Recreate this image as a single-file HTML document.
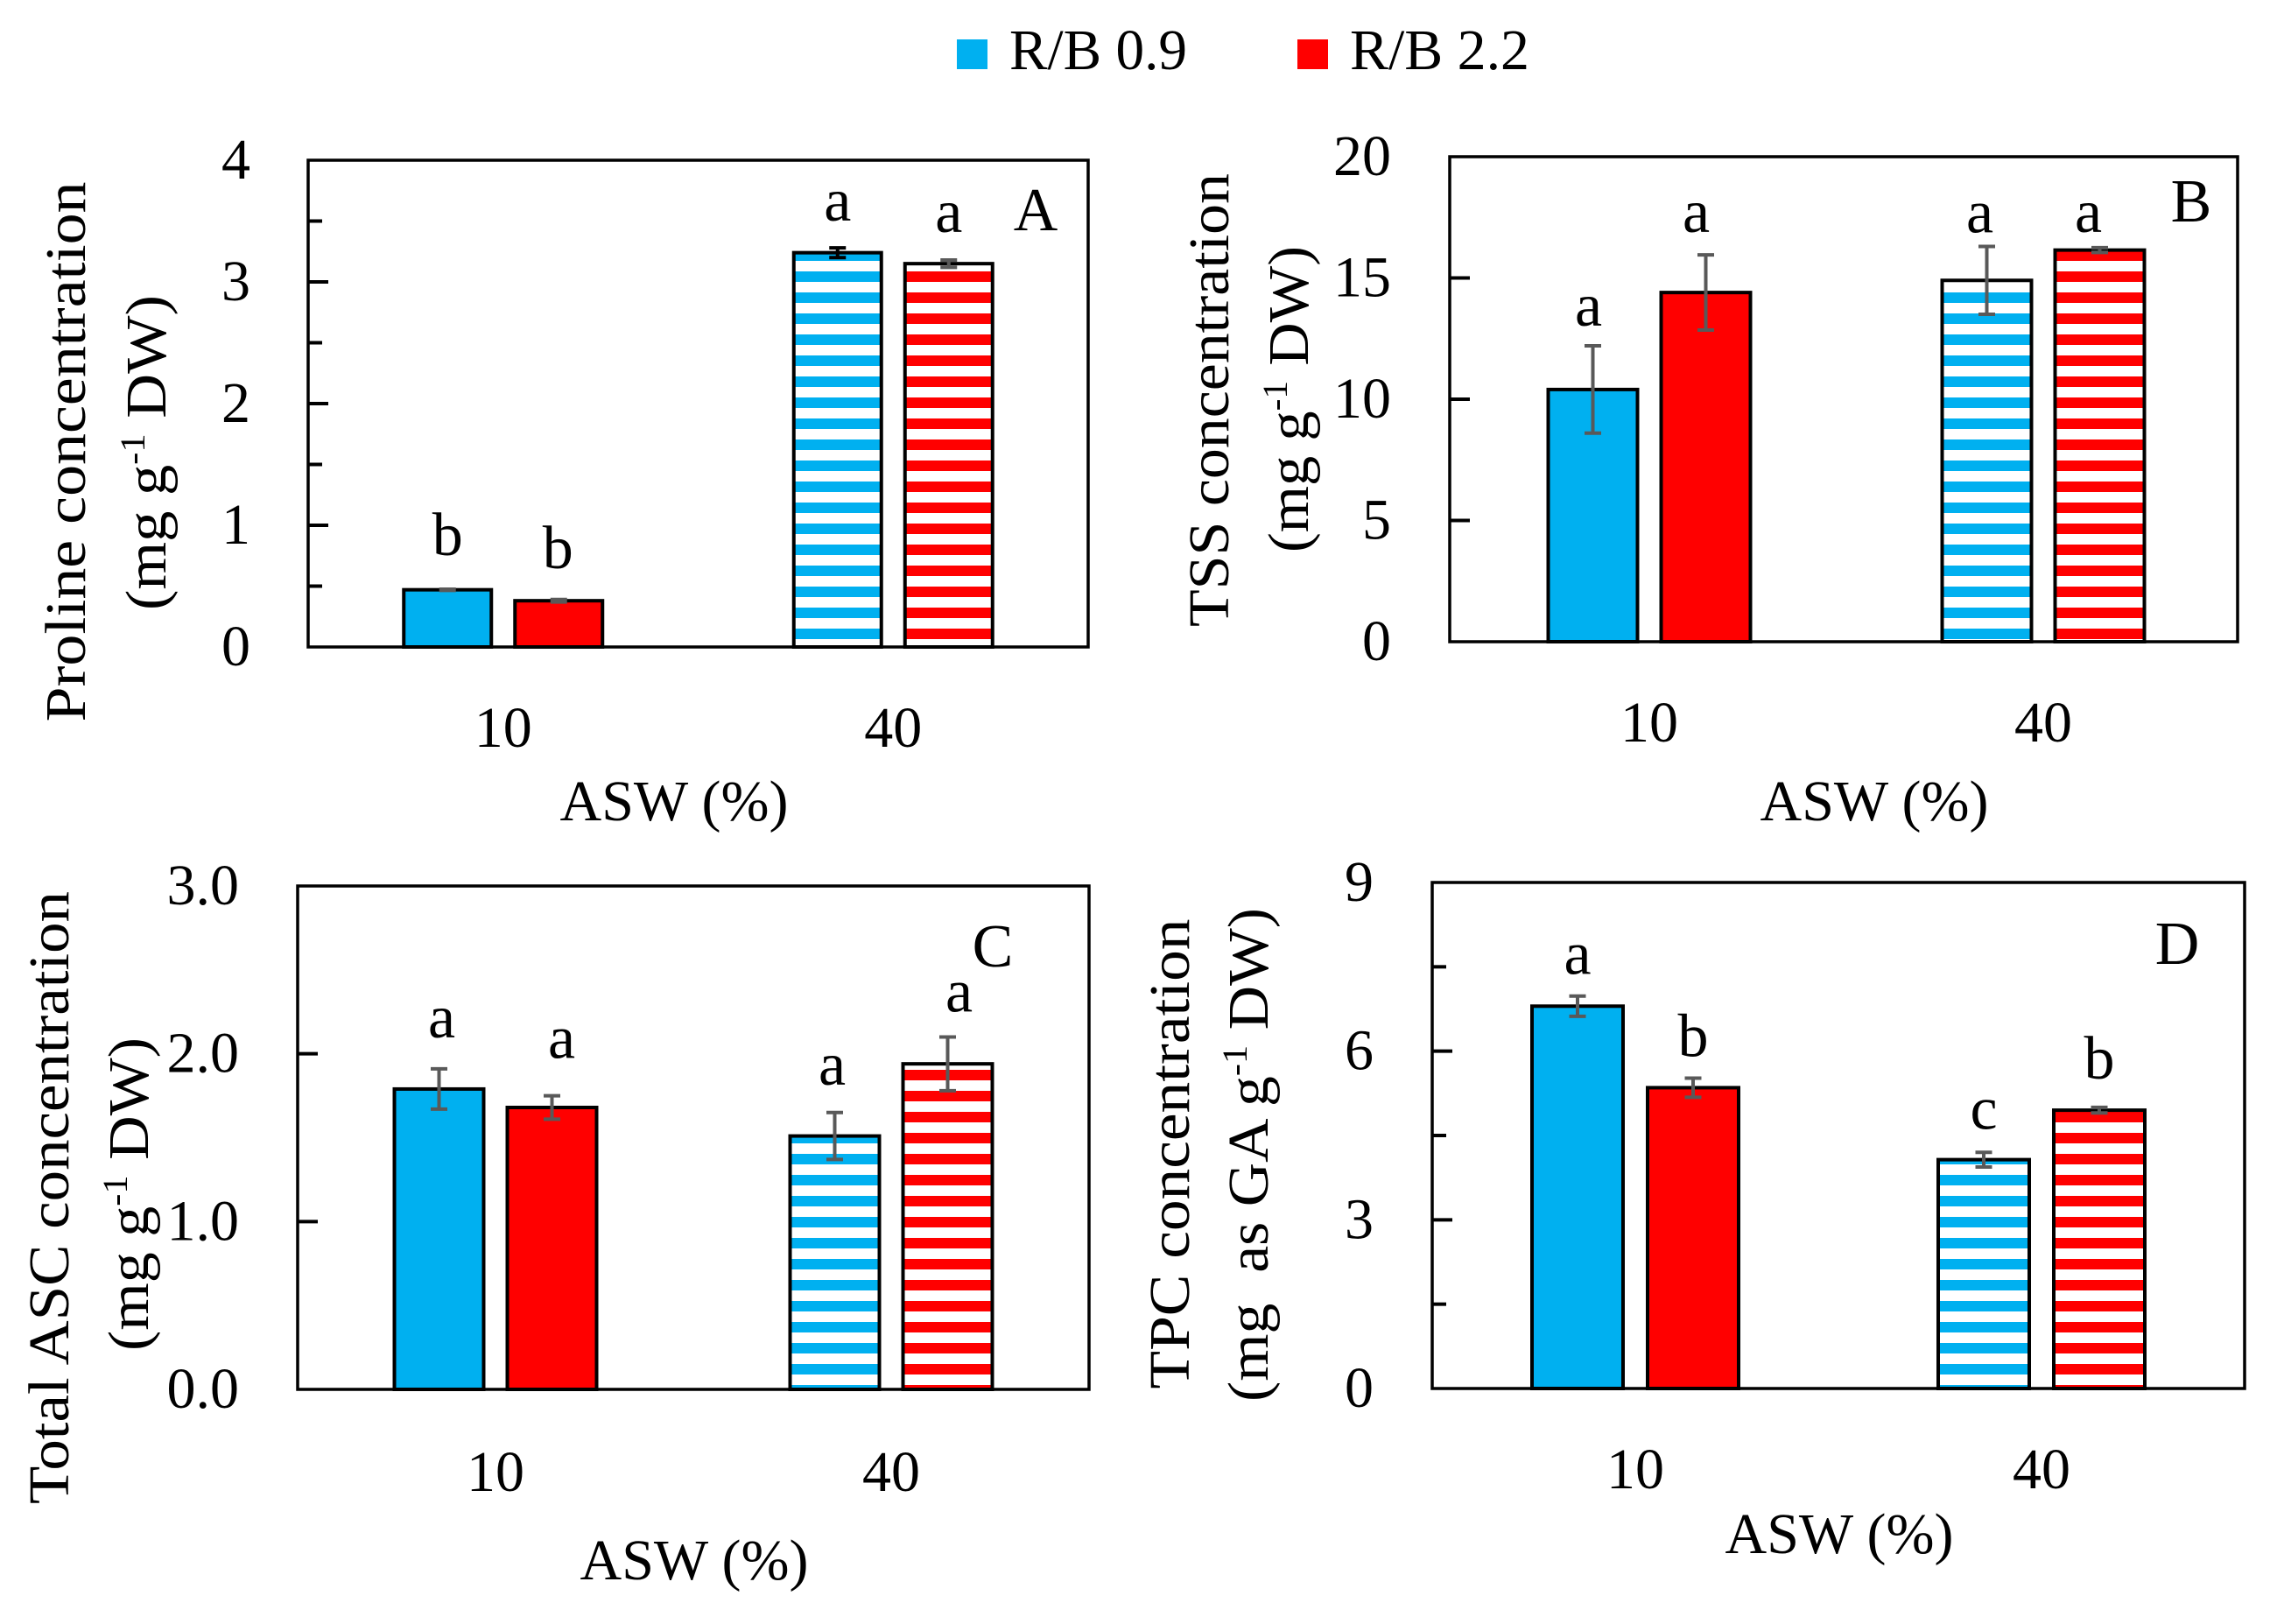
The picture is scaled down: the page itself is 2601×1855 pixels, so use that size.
<!DOCTYPE html>
<html lang="en">
<head>
<meta charset="utf-8">
<title>ASW response charts</title>
<style>
html,body{margin:0;padding:0;background:#fff;}
svg{display:block;}
text{font-family:"Liberation Serif","DejaVu Serif",serif;font-size:66px;fill:#000;}
text.sig{font-size:70px;}
</style>
</head>
<body>
<svg id="figure" xmlns="http://www.w3.org/2000/svg" width="2601" height="1855" viewBox="0 0 2601 1855">
  <defs>
    <pattern id="stripe-blue" patternUnits="userSpaceOnUse" x="0" y="310" width="24" height="24">
      <rect x="0" y="0" width="24" height="24" fill="#fff"/>
      <rect x="0" y="0" width="24" height="12" fill="#00B0F0"/>
    </pattern>
    <pattern id="stripe-red" patternUnits="userSpaceOnUse" x="0" y="310" width="24" height="24">
      <rect x="0" y="0" width="24" height="24" fill="#fff"/>
      <rect x="0" y="0" width="24" height="12" fill="#FF0000"/>
    </pattern>
  </defs>
  <rect x="0" y="0" width="2601" height="1855" fill="#fff"/>

  <g>
    <rect x="1093" y="45" width="35" height="34" fill="#00B0F0"/>
    <text x="1153" y="79" textLength="203" lengthAdjust="spacingAndGlyphs">R/B 0.9</text>
    <rect x="1482" y="45" width="35" height="34" fill="#FF0000"/>
    <text x="1542" y="79" textLength="205" lengthAdjust="spacingAndGlyphs">R/B 2.2</text>
  </g>

  <g id="panel-a"></g>
  <g id="panel-b"></g>
  <g id="panel-c"></g>
  <g id="panel-d"></g>

  <g>
    <text transform="translate(97,516) rotate(-90)" text-anchor="middle" textLength="617" lengthAdjust="spacingAndGlyphs">Proline concentration</text>
    <text transform="translate(189,517) rotate(-90)" text-anchor="middle" textLength="360" lengthAdjust="spacingAndGlyphs">(mg g<tspan dy="-24" style="font-size:40px">-1</tspan><tspan dy="24"> DW)</tspan></text>
    <text x="770" y="937" text-anchor="middle">ASW (%)</text>

    <text transform="translate(1403,457) rotate(-90)" text-anchor="middle" textLength="518" lengthAdjust="spacingAndGlyphs">TSS concentration</text>
    <text transform="translate(1494,456) rotate(-90)" text-anchor="middle" textLength="350" lengthAdjust="spacingAndGlyphs">(mg g<tspan dy="-24" style="font-size:40px">-1</tspan><tspan dy="24"> DW)</tspan></text>
    <text x="2141" y="937" text-anchor="middle">ASW (%)</text>

    <text transform="translate(78,1368) rotate(-90)" text-anchor="middle" textLength="700" lengthAdjust="spacingAndGlyphs">Total ASC concentration</text>
    <text transform="translate(169,1364) rotate(-90)" text-anchor="middle" textLength="358" lengthAdjust="spacingAndGlyphs">(mg g<tspan dy="-24" style="font-size:40px">-1</tspan><tspan dy="24"> DW)</tspan></text>
    <text x="793" y="1804" text-anchor="middle">ASW (%)</text>

    <text transform="translate(1358,1318) rotate(-90)" text-anchor="middle" textLength="537" lengthAdjust="spacingAndGlyphs">TPC concentration</text>
    <text transform="translate(1448,1319) rotate(-90)" text-anchor="middle" xml:space="preserve" textLength="564" lengthAdjust="spacingAndGlyphs">(mg  as GA g<tspan dy="-24" style="font-size:40px">-1</tspan><tspan dy="24"> DW)</tspan></text>
    <text x="2101" y="1774" text-anchor="middle">ASW (%)</text>
  </g>

  <g>
    <text class="sig" x="1183" y="263" text-anchor="middle">A</text>
    <text class="sig" x="2503" y="253" text-anchor="middle">B</text>
    <text class="sig" x="1134" y="1104" text-anchor="middle">C</text>
    <text class="sig" x="2487" y="1101" text-anchor="middle">D</text>
  </g>
</svg>

<script>
// Shared categories and series
const categories = ['10', '40'];
const seriesNames = ['R/B 0.9', 'R/B 2.2'];

// Panel A: proline
const prolineR09 = [0.47, 3.24];
const prolineR22 = [0.38, 3.15];
const prolineErrR09 = [0.005, 0.04];
const prolineErrR22 = [0.01, 0.03];
const prolineLettersR09 = ['b', 'a'];
const prolineLettersR22 = ['b', 'a'];
const prolineTicks = [0, 1, 2, 3, 4];
const prolineTickLabels = ['0', '1', '2', '3', '4'];
const prolineMinorTicks = [0.5, 1.5, 2.5, 3.5];

// Panel B: TSS
const tssR09 = [10.4, 14.9];
const tssR22 = [14.4, 16.15];
const tssErrR09 = [1.8, 1.4];
const tssErrR22 = [1.55, 0.1];
const tssLettersR09 = ['a', 'a'];
const tssLettersR22 = ['a', 'a'];
const tssTicks = [0, 5, 10, 15, 20];
const tssTickLabels = ['0', '5', '10', '15', '20'];
const tssMinorTicks = [];

// Panel C: total ASC
const ascR09 = [1.79, 1.51];
const ascR22 = [1.68, 1.94];
const ascErrR09 = [0.12, 0.14];
const ascErrR22 = [0.07, 0.16];
const ascLettersR09 = ['a', 'a'];
const ascLettersR22 = ['a', 'a'];
const ascTicks = [0, 1, 2, 3];
const ascTickLabels = ['0.0', '1.0', '2.0', '3.0'];
const ascMinorTicks = [];

// Panel D: TPC
const tpcR09 = [6.8, 4.07];
const tpcR22 = [5.35, 4.95];
const tpcErrR09 = [0.18, 0.13];
const tpcErrR22 = [0.17, 0.05];
const tpcLettersR09 = ['a', 'c'];
const tpcLettersR22 = ['b', 'b'];
const tpcTicks = [0, 3, 6, 9];
const tpcTickLabels = ['0', '3', '6', '9'];
const tpcMinorTicks = [1.5, 4.5, 7.5];

const SVGNS = 'http://www.w3.org/2000/svg';
function el(parent, tag, attrs, text) {
  const node = document.createElementNS(SVGNS, tag);
  for (const k in attrs) node.setAttribute(k, attrs[k]);
  if (text !== undefined) node.textContent = text;
  parent.appendChild(node);
  return node;
}

function drawPanel(cfg) {
  const root = document.getElementById(cfg.id);
  const yMin = cfg.ticks[0];
  const yMax = cfg.ticks[cfg.ticks.length - 1];
  const yScale = v => cfg.bottom - (v - yMin) / (yMax - yMin) * (cfg.bottom - cfg.top);
  const band = (cfg.right - cfg.left) / categories.length;
  const xCenter = i => cfg.left + cfg.shift + band * (i + 0.5);
  const xBar = (i, s) => xCenter(i) + (s === 0 ? -1 : 1) * cfg.pitch / 2 - cfg.barWidth / 2;
  const series = [
    { values: cfg.r09, errs: cfg.err09, letters: cfg.letters09, solid: '#00B0F0', stripe: 'url(#stripe-blue)', lifts: cfg.lift09, nudges: cfg.nudge09 },
    { values: cfg.r22, errs: cfg.err22, letters: cfg.letters22, solid: '#FF0000', stripe: 'url(#stripe-red)', lifts: cfg.lift22, nudges: cfg.nudge22 }
  ];

  series.forEach((s, si) => {
    s.values.forEach((v, ci) => {
      const bar = el(root, 'rect', {
        x: xBar(ci, si), y: yScale(v), width: cfg.barWidth, height: cfg.bottom - yScale(v),
        fill: ci === 1 ? s.stripe : s.solid, stroke: '#000', 'stroke-width': 4
      });
      
      
    });
  });

  series.forEach((s, si) => {
    s.values.forEach((v, ci) => {
      const cx = xBar(ci, si) + cfg.barWidth / 2;
      const hi = yScale(v + s.errs[ci]);
      const lo = yScale(v - s.errs[ci]);
      const ink = (cfg.id === 'panel-a' && si === 0 && ci === 1) ? '#000' : '#595959';
      const d = 'M' + (cx - 9.5) + ' ' + hi + 'H' + (cx + 9.5) + 'M' + cx + ' ' + hi + 'V' + lo + 'M' + (cx - 9.5) + ' ' + lo + 'H' + (cx + 9.5);
      const err = el(root, 'path', { d: d, fill: 'none', stroke: ink, 'stroke-width': 4 });
      
      
      const letter = el(root, 'text', { x: cx + s.nudges[ci], y: hi - s.lifts[ci], 'text-anchor': 'middle', class: 'sig' }, s.letters[ci]);
      
      
    });
  });

  const box = el(root, 'rect', {
    x: cfg.left, y: cfg.top, width: cfg.right - cfg.left, height: cfg.bottom - cfg.top,
    fill: 'none', stroke: '#000', 'stroke-width': 3.5
  });
  
  

  cfg.ticks.forEach((t, i) => {
    if (t !== yMin && t !== yMax) {
      const mark = el(root, 'line', { x1: cfg.left, x2: cfg.left + 23, y1: yScale(t), y2: yScale(t), stroke: '#000', 'stroke-width': 4 });
      
      
    }
    const label = el(root, 'text', { x: cfg.tickRight, y: yScale(t) + 21, 'text-anchor': 'end' }, cfg.tickLabels[i]);
    
    
  });
  cfg.minor.forEach(t => {
    const mark = el(root, 'line', { x1: cfg.left, x2: cfg.left + 16, y1: yScale(t), y2: yScale(t), stroke: '#000', 'stroke-width': 4 });
    
    
  });
  categories.forEach((c, i) => {
    const label = el(root, 'text', { x: xCenter(i), y: cfg.catBaseline, 'text-anchor': 'middle' }, c);
    
    
  });
}

drawPanel({
  id: 'panel-a', left: 352, right: 1243, top: 183, bottom: 739, pitch: 127, barWidth: 100, shift: 0,
  tickRight: 286, catBaseline: 853,
  r09: prolineR09, r22: prolineR22, err09: prolineErrR09, err22: prolineErrR22,
  letters09: prolineLettersR09, letters22: prolineLettersR22,
  ticks: prolineTicks, tickLabels: prolineTickLabels, minor: prolineMinorTicks,
  lift09: [39, 31], lift22: [36, 32], nudge09: [0, 0], nudge22: [-1, 0]
});
drawPanel({
  id: 'panel-b', left: 1656, right: 2556, top: 179, bottom: 733, pitch: 129, barWidth: 102, shift: 3,
  tickRight: 1589, catBaseline: 847,
  r09: tssR09, r22: tssR22, err09: tssErrR09, err22: tssErrR22,
  letters09: tssLettersR09, letters22: tssLettersR22,
  ticks: tssTicks, tickLabels: tssTickLabels, minor: tssMinorTicks,
  lift09: [23, 16], lift22: [26, 18], nudge09: [-5, -8], nudge22: [-11, -13]
});
drawPanel({
  id: 'panel-c', left: 340, right: 1244, top: 1012, bottom: 1587, pitch: 129, barWidth: 102, shift: 0,
  tickRight: 273, catBaseline: 1703,
  r09: ascR09, r22: ascR22, err09: ascErrR09, err22: ascErrR22,
  letters09: ascLettersR09, letters22: ascLettersR22,
  ticks: ascTicks, tickLabels: ascTickLabels, minor: ascMinorTicks,
  lift09: [36, 32], lift22: [43, 29], nudge09: [3, -3], nudge22: [11, 13]
});
drawPanel({
  id: 'panel-d', left: 1636, right: 2564, top: 1008, bottom: 1586, pitch: 132, barWidth: 104, shift: 0,
  tickRight: 1569, catBaseline: 1700,
  r09: tpcR09, r22: tpcR22, err09: tpcErrR09, err22: tpcErrR22,
  letters09: tpcLettersR09, letters22: tpcLettersR22,
  ticks: tpcTicks, tickLabels: tpcTickLabels, minor: tpcMinorTicks,
  lift09: [25, 27], lift22: [25, 33], nudge09: [0, 0], nudge22: [0, 0]
});
</script>
</body>
</html>
